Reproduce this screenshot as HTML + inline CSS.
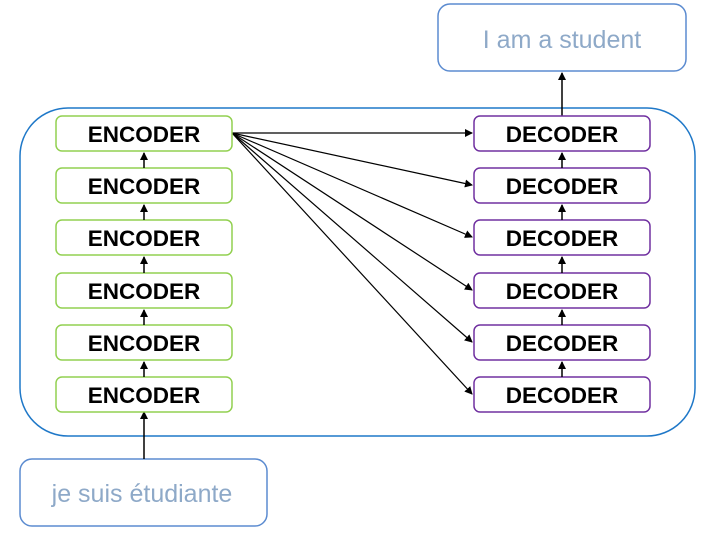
<!DOCTYPE html>
<html><head><style>
body{margin:0;background:#fff;width:708px;height:534px;overflow:hidden}
svg text{font-family:"Liberation Sans",sans-serif}
</style></head><body>
<svg width="708" height="534" viewBox="0 0 708 534" xmlns="http://www.w3.org/2000/svg">
<defs><marker id="a" markerWidth="8" markerHeight="8" refX="7" refY="4" orient="auto" markerUnits="userSpaceOnUse"><path d="M0,0 L8,4 L0,8 z" fill="#000"/></marker></defs>
<rect x="20" y="108" width="675" height="328" rx="48" fill="none" stroke="#1f78c8" stroke-width="1.5"/>
<rect x="438" y="4" width="248" height="67" rx="12" fill="#fff" stroke="#5b8bd0" stroke-width="1.5"/>
<text x="562" y="48" font-size="25" fill="#8ea9c8" text-anchor="middle">I am a student</text>
<rect x="20" y="459" width="247" height="67" rx="12" fill="#fff" stroke="#5b8bd0" stroke-width="1.5"/>
<text x="142" y="502" font-size="25" fill="#8ea9c8" text-anchor="middle">je suis étudiante</text>
<line x1="562" y1="116" x2="562" y2="73" stroke="#000" stroke-width="1.5" marker-end="url(#a)"/>
<line x1="144" y1="459" x2="144" y2="412" stroke="#000" stroke-width="1.5" marker-end="url(#a)"/>
<g stroke="#000" stroke-width="1.2" fill="none">
<line x1="232" y1="133" x2="472" y2="133" marker-end="url(#a)"/>
<line x1="232" y1="133" x2="472" y2="185" marker-end="url(#a)"/>
<line x1="232" y1="133" x2="472" y2="237" marker-end="url(#a)"/>
<line x1="232" y1="133" x2="472" y2="290" marker-end="url(#a)"/>
<line x1="232" y1="133" x2="472" y2="342" marker-end="url(#a)"/>
<line x1="232" y1="133" x2="472" y2="394" marker-end="url(#a)"/>
</g>
<g stroke-width="1.5">
<rect x="56" y="116" width="176" height="35" rx="6" fill="#fff" stroke="#92d050"/>
<rect x="56" y="168" width="176" height="35" rx="6" fill="#fff" stroke="#92d050"/>
<rect x="56" y="220" width="176" height="35" rx="6" fill="#fff" stroke="#92d050"/>
<rect x="56" y="273" width="176" height="35" rx="6" fill="#fff" stroke="#92d050"/>
<rect x="56" y="325" width="176" height="35" rx="6" fill="#fff" stroke="#92d050"/>
<rect x="56" y="377" width="176" height="35" rx="6" fill="#fff" stroke="#92d050"/>
<rect x="474" y="116" width="176" height="35" rx="6" fill="#fff" stroke="#7030a0"/>
<rect x="474" y="168" width="176" height="35" rx="6" fill="#fff" stroke="#7030a0"/>
<rect x="474" y="220" width="176" height="35" rx="6" fill="#fff" stroke="#7030a0"/>
<rect x="474" y="273" width="176" height="35" rx="6" fill="#fff" stroke="#7030a0"/>
<rect x="474" y="325" width="176" height="35" rx="6" fill="#fff" stroke="#7030a0"/>
<rect x="474" y="377" width="176" height="35" rx="6" fill="#fff" stroke="#7030a0"/>
</g>
<g stroke="#000" stroke-width="1.5">
<line x1="144" y1="168" x2="144" y2="153" marker-end="url(#a)"/>
<line x1="144" y1="220" x2="144" y2="205" marker-end="url(#a)"/>
<line x1="144" y1="273" x2="144" y2="257" marker-end="url(#a)"/>
<line x1="144" y1="325" x2="144" y2="310" marker-end="url(#a)"/>
<line x1="144" y1="377" x2="144" y2="362" marker-end="url(#a)"/>
<line x1="562" y1="168" x2="562" y2="153" marker-end="url(#a)"/>
<line x1="562" y1="220" x2="562" y2="205" marker-end="url(#a)"/>
<line x1="562" y1="273" x2="562" y2="257" marker-end="url(#a)"/>
<line x1="562" y1="325" x2="562" y2="310" marker-end="url(#a)"/>
<line x1="562" y1="377" x2="562" y2="362" marker-end="url(#a)"/>
</g>
<g font-size="22.5" font-weight="bold" text-anchor="middle" fill="#000">
<text x="144" y="142">ENCODER</text><text x="144" y="194">ENCODER</text><text x="144" y="246">ENCODER</text>
<text x="144" y="299">ENCODER</text><text x="144" y="351">ENCODER</text><text x="144" y="403">ENCODER</text>
<text x="562" y="142">DECODER</text><text x="562" y="194">DECODER</text><text x="562" y="246">DECODER</text>
<text x="562" y="299">DECODER</text><text x="562" y="351">DECODER</text><text x="562" y="403">DECODER</text>
</g>
</svg>
</body></html>
